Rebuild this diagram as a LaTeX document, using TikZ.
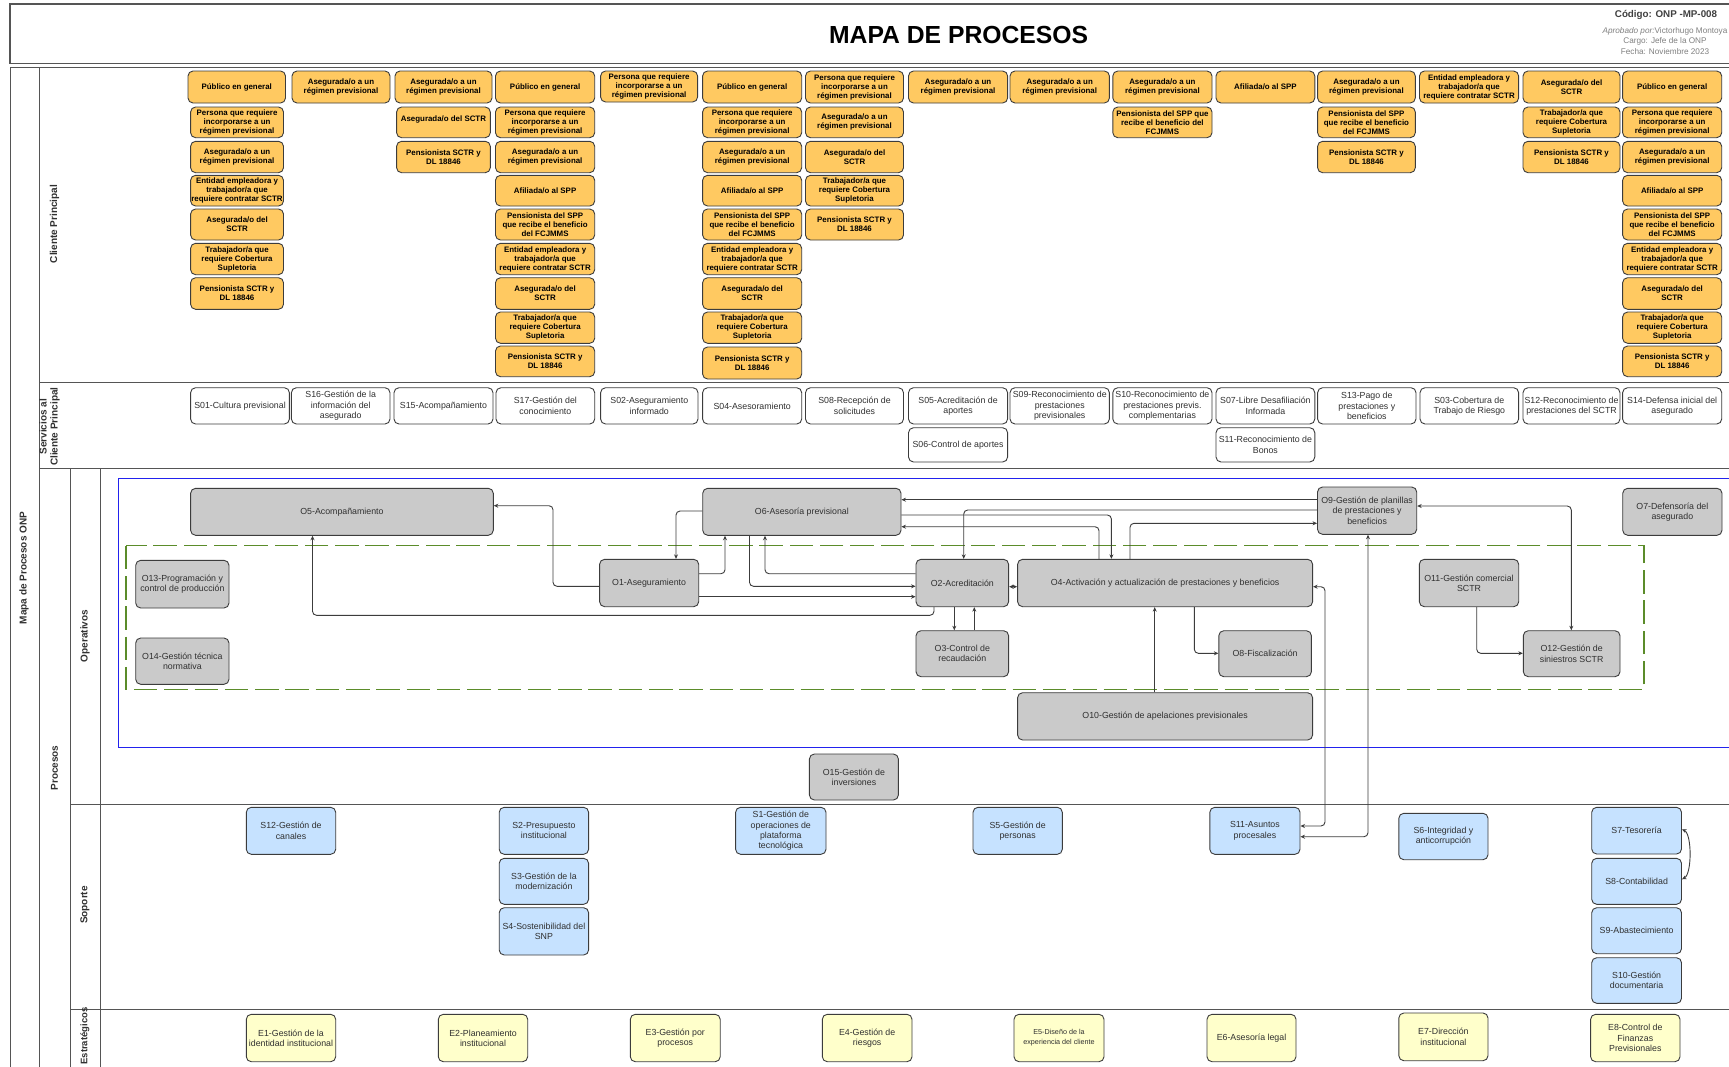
\documentclass[tikz,border=0pt]{standalone}
\usepackage{fontspec}
\setmainfont{Liberation Sans}
\usetikzlibrary{arrows.meta}
\definecolor{frameC}{HTML}{555555}
\definecolor{edgeC}{HTML}{3C3C3C}
\definecolor{orangeC}{HTML}{FFC961}
\definecolor{greyC}{HTML}{CACACA}
\definecolor{blueC}{HTML}{C6E2FF}
\definecolor{yellowC}{HTML}{FFFFCB}
\definecolor{greenC}{HTML}{5B8C2A}
\definecolor{laneblue}{HTML}{2222EE}
\definecolor{txtC}{HTML}{303030}
\newcommand{\bx}[7]{%
  \pgfmathsetmacro\bxW{#5-#3}\pgfmathsetmacro\bxH{#6-#4}%
  \node[#1,minimum width=\bxW pt,minimum height=\bxH pt] (#2) at ({(#3+#5)/2},{(#4+#6)/2}) {#7};}
\tikzset{
  basebox/.style={draw=edgeC,line width=0.9pt,rounded corners=5pt,inner sep=0pt,align=center,text=txtC},
  orangebox/.style={basebox,fill=orangeC,text=black,font=\bfseries\fontsize{7.9}{9}\selectfont},
  servbox/.style={basebox,fill=white,font=\fontsize{8.8}{10.2}\selectfont},
  greybox/.style={basebox,fill=greyC,font=\fontsize{8.8}{10.2}\selectfont},
  bluebox/.style={basebox,fill=blueC,font=\fontsize{8.8}{10.2}\selectfont},
  yellowbox/.style={basebox,fill=yellowC,font=\fontsize{8.8}{10.2}\selectfont},
  smallyellow/.style={yellowbox,font=\fontsize{7.2}{10}\selectfont},
  frameline/.style={draw=frameC,line width=1pt},
  lanelabel/.style={rotate=90,align=center,text=txtC,inner sep=0pt,font=\bfseries\fontsize{10}{11}\selectfont},
  conn/.style={draw=edgeC,line width=0.9pt,rounded corners=4pt},
  oneway/.style={conn,-{Stealth[length=4.5pt,width=4pt]}},
  twoway/.style={conn,{Stealth[length=4.5pt,width=4pt]}-{Stealth[length=4.5pt,width=4pt]}}
}
% orange texts
\newcommand{\tPub}{Público en general}
\newcommand{\tPer}{Persona que requiere\\incorporarse a un\\régimen previsional}
\newcommand{\tAse}{Asegurada/o a un\\régimen previsional}
\newcommand{\tEnt}{Entidad empleadora y\\trabajador/a que\\requiere contratar SCTR}
\newcommand{\tSct}{Asegurada/o del\\SCTR}
\newcommand{\tTra}{Trabajador/a que\\requiere Cobertura\\Supletoria}
\newcommand{\tPen}{Pensionista SCTR y\\DL 18846}
\newcommand{\tAfi}{Afiliada/o al SPP}
\newcommand{\tPsp}{Pensionista del SPP\\que recibe el beneficio\\del FCJMMS}
\begin{document}
\begin{tikzpicture}[x=1pt,y=-1pt]
\useasboundingbox (0,0) rectangle (1729,1066);
\fill[white] (0,0) rectangle (1729,1066);
\clip (0,0) rectangle (1729,1066);
% frames
\draw[frameline,line width=1.2pt] (1745,4) -- (10,4) -- (10,63.5) -- (1745,63.5);
\draw[frameline] (1745,67.7) -- (10,67.7) -- (10,1075);
\draw[frameline] (39.5,67.7) -- (39.5,1075);
\draw[frameline] (39.5,382.7) -- (1745,382.7);
\draw[frameline] (39.5,468.7) -- (1745,468.7);
\draw[frameline] (70,468.7) -- (70,1075);
\draw[frameline] (100,468.7) -- (100,1075);
\draw[frameline] (70,804.7) -- (1745,804.7);
\draw[frameline] (70,1009) -- (1745,1009);
\draw[draw=laneblue,line width=1pt] (1745,478) -- (118,478) -- (118,747.3) -- (1745,747.3);
\draw[draw=greenC,line width=1.1pt,dash pattern=on 23.5pt off 6.8pt] (126,545.7) rectangle (1644,689.3);
% title texts
\node[font=\bfseries\fontsize{24.7}{28}\selectfont,text=black] (title) at (958.6,35) {MAPA DE PROCESOS};
\node[font=\bfseries\fontsize{9.8}{11}\selectfont,text=black!75] (code) at (1666,15) {Código: ONP -MP-008};
\node[font=\fontsize{8.2}{10.3}\selectfont,text=black!50,align=center] (appr) at (1665,41) {\textit{Aprobado por:}Victorhugo Montoya\\Cargo: Jefe de la ONP\\Fecha: Noviembre 2023};
% lane labels
\node[lanelabel] (l1) at (24,568) {Mapa de Procesos ONP};
\node[lanelabel] (l2) at (54.5,224) {Cliente Principal};
\node[lanelabel] (l3) at (49.5,426.7) {Servicios al\\Cliente Principal};
\node[lanelabel] (l4) at (54.5,768) {Procesos};
\node[lanelabel] (l5) at (85,636) {Operativos};
\node[lanelabel] (l6) at (85,905) {Soporte};
\node[lanelabel,font=\bfseries\fontsize{9.5}{11}\selectfont] (l7) at (85,1036) {Estratégicos};
% row 1 orange
\bx{orangebox}{a1}{188}{71}{285.5}{103}{\tPub}
\bx{orangebox}{b1}{292}{71}{390}{103}{\tAse}
\bx{orangebox}{c1}{395}{71}{492}{103}{\tAse}
\bx{orangebox}{d1}{495.5}{71}{594.7}{103}{\tPub}
\bx{orangebox}{e1}{600.6}{71}{697.6}{102}{\tPer}
\bx{orangebox}{f1}{702.6}{71}{801.7}{103}{\tPub}
\bx{orangebox}{g1}{805.5}{71}{903.5}{103}{\raisebox{1pt}{\parbox{96pt}{\centering \tPer}}}
\bx{orangebox}{h1}{908.5}{71}{1007.6}{103}{\tAse}
\bx{orangebox}{i1}{1010}{71}{1109.4}{103}{\tAse}
\bx{orangebox}{j1}{1112.8}{71}{1212}{103}{\tAse}
\bx{orangebox}{k1}{1216}{71}{1314.8}{103}{\tAfi}
\bx{orangebox}{l1b}{1317.6}{71}{1415.3}{103}{\tAse}
\bx{orangebox}{m1}{1419.5}{71}{1518.6}{103}{\tEnt}
\bx{orangebox}{n1}{1523}{71}{1620}{103}{\tSct}
\bx{orangebox}{o1b}{1622.6}{71}{1721.7}{103}{\tPub}
% col A
\bx{orangebox}{a2}{190.6}{107}{283.5}{137.7}{\tPer}
\bx{orangebox}{a3}{190.6}{141.3}{283.5}{172.7}{\tAse}
\bx{orangebox}{a4}{190.6}{175.3}{283.5}{206}{\tEnt}
\bx{orangebox}{a5}{190.6}{209}{283.5}{240}{\tSct}
\bx{orangebox}{a6}{190.6}{243.3}{283.5}{274.7}{\tTra}
\bx{orangebox}{a7}{190.6}{277.7}{283.5}{309.3}{\tPen}
% col C
\bx{orangebox}{c2}{396.6}{107}{490.3}{137.7}{\raisebox{7pt}{Asegurada/o del SCTR}}
\bx{orangebox}{c3}{396.6}{141.3}{490.3}{172.7}{\tPen}
% col D
\bx{orangebox}{d2}{495.5}{107}{594.7}{137.7}{\tPer}
\bx{orangebox}{d3}{495.5}{141.3}{594.7}{172.7}{\tAse}
\bx{orangebox}{d4}{495.5}{175.3}{594.7}{206}{\tAfi}
\bx{orangebox}{d5}{495.5}{209}{594.7}{240}{\tPsp}
\bx{orangebox}{d6}{495.5}{243.3}{594.7}{274.7}{\tEnt}
\bx{orangebox}{d7}{495.5}{277.7}{594.7}{309.3}{\tSct}
\bx{orangebox}{d8}{495.5}{312}{594.7}{343.3}{\tTra}
\bx{orangebox}{d9}{495.5}{346}{594.7}{376.7}{\tPen}
% col F
\bx{orangebox}{f2}{702.6}{107}{801.7}{137.7}{\tPer}
\bx{orangebox}{f3}{702.6}{141.3}{801.7}{172.7}{\tAse}
\bx{orangebox}{f4}{702.6}{175.3}{801.7}{206}{\tAfi}
\bx{orangebox}{f5}{702.6}{209}{801.7}{240}{\tPsp}
\bx{orangebox}{f6}{702.6}{243.3}{801.7}{274.7}{\tEnt}
\bx{orangebox}{f7}{702.6}{277.7}{801.7}{309.3}{\tSct}
\bx{orangebox}{f8}{702.6}{312}{801.7}{343.3}{\tTra}
\bx{orangebox}{f9}{702.6}{347}{801.7}{379}{\tPen}
% col G
\bx{orangebox}{g2}{805.5}{107}{903.5}{137.7}{\tAse}
\bx{orangebox}{g3}{805.5}{141.3}{903.5}{172.7}{\tSct}
\bx{orangebox}{g4}{805.5}{175.3}{903.5}{206}{\tTra}
\bx{orangebox}{g5}{805.5}{209}{903.5}{240}{\tPen}
% col J, L, N
\bx{orangebox}{j2}{1112.8}{107}{1212}{137.7}{Pensionista del SPP que\\recibe el beneficio del\\FCJMMS}
\bx{orangebox}{l2b}{1317.6}{107}{1415.3}{137.7}{\tPsp}
\bx{orangebox}{l3b}{1317.6}{141.3}{1415.3}{172.7}{\tPen}
\bx{orangebox}{n2}{1523}{107}{1620}{137.7}{\tTra}
\bx{orangebox}{n3}{1523}{141.3}{1620}{172.7}{\tPen}
% col O
\bx{orangebox}{o2b}{1622.6}{107}{1721.7}{137.7}{\tPer}
\bx{orangebox}{o3b}{1622.6}{141.3}{1721.7}{172.7}{\tAse}
\bx{orangebox}{o4b}{1622.6}{175.3}{1721.7}{206}{\tAfi}
\bx{orangebox}{o5b}{1622.6}{209}{1721.7}{240}{\tPsp}
\bx{orangebox}{o6b}{1622.6}{243.3}{1721.7}{274.7}{\tEnt}
\bx{orangebox}{o7b}{1622.6}{277.7}{1721.7}{309.3}{\tSct}
\bx{orangebox}{o8b}{1622.6}{312}{1721.7}{343.3}{\tTra}
\bx{orangebox}{o9b}{1622.6}{346}{1721.7}{376.7}{\tPen}
% services
\bx{servbox}{sv01}{190.6}{387.7}{289.4}{424}{\raisebox{2pt}{S01-Cultura previsional}}
\bx{servbox}{sv16}{291.4}{387.7}{390}{424}{S16-Gestión de la\\información del\\asegurado}
\bx{servbox}{sv15}{394}{387.7}{493}{424}{S15-Acompañamiento}
\bx{servbox}{sv17}{496}{387.7}{594.7}{424}{S17-Gestión del\\conocimiento}
\bx{servbox}{sv02}{600.6}{387.7}{698}{424}{S02-Aseguramiento\\informado}
\bx{servbox}{sv04}{702.6}{387.7}{801.7}{424}{S04-Asesoramiento}
\bx{servbox}{sv08}{805.5}{387.7}{903.5}{424}{S08-Recepción de\\solicitudes}
\bx{servbox}{sv05}{908.5}{387.7}{1007.6}{424}{S05-Acreditación de\\aportes}
\bx{servbox}{sv06}{908.5}{427.7}{1007.6}{462}{S06-Control de aportes}
\bx{servbox}{sv09}{1010}{387.7}{1109.4}{424}{S09-Reconocimiento de\\prestaciones\\previsionales}
\bx{servbox}{sv10}{1112.8}{387.7}{1212}{424}{S10-Reconocimiento de\\prestaciones previs.\\complementarias}
\bx{servbox}{sv07}{1216}{387.7}{1314.8}{424}{S07-Libre Desafiliación\\Informada}
\bx{servbox}{sv11}{1216}{427.7}{1314.8}{462}{S11-Reconocimiento de\\Bonos}
\bx{servbox}{sv13}{1317.6}{387.7}{1416}{424}{S13-Pago de\\prestaciones y\\beneficios}
\bx{servbox}{sv03}{1420}{387.7}{1518.6}{424}{S03-Cobertura de\\Trabajo de Riesgo}
\bx{servbox}{sv12}{1523}{387.7}{1620}{424}{S12-Reconocimiento de\\prestaciones del SCTR}
\bx{servbox}{sv14}{1622.6}{387.7}{1721.7}{424}{S14-Defensa inicial del\\asegurado}
% operative
\bx{greybox}{O5}{190.6}{488.3}{493.3}{535.3}{O5-Acompañamiento}
\bx{greybox}{O6}{702.7}{488.3}{901}{535.3}{O6-Asesoría previsional}
\bx{greybox}{O1}{599.6}{559.3}{698.7}{606.7}{O1-Aseguramiento}
\bx{greybox}{O13}{135.7}{560.3}{229}{608}{O13-Programación y\\control de producción}
\bx{greybox}{O14}{135.7}{638}{229}{684.3}{O14-Gestión técnica\\normativa}
\bx{greybox}{O2}{916}{559.3}{1008.6}{606.7}{O2-Acreditación}
\bx{greybox}{O4}{1017.6}{559.3}{1312.6}{606.7}{O4-Activación y actualización de prestaciones y beneficios}
\bx{greybox}{O3}{916}{630.7}{1008.6}{676.7}{O3-Control de\\recaudación}
\bx{greybox}{O8}{1218.8}{630.7}{1311.4}{676.7}{O8-Fiscalización}
\bx{greybox}{O10}{1017.6}{692.7}{1312.6}{740}{O10-Gestión de apelaciones previsionales}
\bx{greybox}{O15}{809.4}{754}{898.4}{800}{O15-Gestión de\\inversiones}
\bx{greybox}{O9}{1317.5}{487}{1416.7}{534.3}{O9-Gestión de planillas\\de prestaciones y\\beneficios}
\bx{greybox}{O7}{1622.7}{488.3}{1722}{535.3}{O7-Defensoría del\\asegurado}
\bx{greybox}{O11}{1419.3}{559.3}{1518.7}{606.7}{O11-Gestión comercial\\SCTR}
\bx{greybox}{O12}{1523.3}{630.7}{1620}{676.7}{O12-Gestión de\\siniestros SCTR}
% support
\bx{bluebox}{B12}{246.3}{807.3}{335.7}{854.3}{S12-Gestión de\\canales}
\bx{bluebox}{B2}{499.2}{807.3}{588.6}{854.3}{S2-Presupuesto\\institucional}
\bx{bluebox}{B3}{499.2}{858.3}{588.6}{904.3}{S3-Gestión de la\\modernización}
\bx{bluebox}{B4}{499.2}{907.7}{588.6}{955}{S4-Sostenibilidad del\\SNP}
\bx{bluebox}{B1}{735.6}{807.3}{826}{854.3}{S1-Gestión de\\operaciones de\\plataforma\\tecnológica}
\bx{bluebox}{B5}{973}{807.3}{1062.3}{854.3}{S5-Gestión de\\personas}
\bx{bluebox}{B11}{1209.8}{807.3}{1300}{854.3}{S11-Asuntos\\procesales}
\bx{bluebox}{B6}{1398.8}{813.3}{1488}{859.7}{S6-Integridad y\\anticorrupción}
\bx{bluebox}{B7}{1591.7}{807.3}{1681.5}{854}{S7-Tesorería}
\bx{bluebox}{B8}{1591.7}{858.3}{1681.5}{904.3}{S8-Contabilidad}
\bx{bluebox}{B9}{1591.7}{907.7}{1681.5}{953.7}{S9-Abastecimiento}
\bx{bluebox}{B10}{1591.7}{957.7}{1681.5}{1003.3}{S10-Gestión\\documentaria}
% strategic
\bx{yellowbox}{E1}{246.3}{1014.3}{335.7}{1061.7}{E1-Gestión de la\\identidad institucional}
\bx{yellowbox}{E2}{438.3}{1014.3}{527.7}{1061.7}{E2-Planeamiento\\institucional}
\bx{yellowbox}{E3}{630.3}{1014.3}{720.2}{1061.7}{E3-Gestión por\\procesos}
\bx{yellowbox}{E4}{822.3}{1014.3}{912}{1061.7}{E4-Gestión de\\riesgos}
\bx{smallyellow}{E5}{1014}{1014.3}{1104}{1061.7}{E5-Diseño de la\\experiencia del cliente}
\bx{yellowbox}{E6}{1207}{1014.3}{1296}{1061.7}{E6-Asesoría legal}
\bx{yellowbox}{E7}{1398.8}{1013}{1488}{1060.7}{E7-Dirección\\institucional}
\bx{yellowbox}{E8}{1590.6}{1014.3}{1680}{1061.7}{E8-Control de\\Finanzas\\Previsionales}
% connectors
\draw[oneway] (O1.west |- 0,586.3) -- (553,586.3) -- (553,505.7) -- (O5.east |- 0,505.7);
\draw[oneway] (O6.west |- 0,511) -- (676,511) -- (O1.north -| 676,0);
\draw[oneway] (O1.east |- 0,573.7) -- (725,573.7) -- (O6.south -| 725,0);
\draw[oneway] (O6.south -| 749.5,0) -- (749.5,586.3) -- (O2.west |- 0,586.3);
\draw[oneway] (O2.west |- 0,573.7) -- (765,573.7) -- (O6.south -| 765,0);
\draw[oneway] (O1.east |- 0,596.7) -- (O2.west |- 0,596.7);
\draw[oneway] (O2.south -| 934,0) -- (934,615.3) -- (312.5,615.3) -- (O5.south -| 312.5,0);
\draw[oneway] (O9.west |- 0,499.7) -- (O6.east |- 0,499.7);
\draw[oneway] (O9.west |- 0,510) -- (963.7,510) -- (O2.north -| 963.7,0);
\draw[oneway] (O6.east |- 0,515) -- (1111.4,515) -- (O4.north -| 1111.4,0);
\draw[oneway] (O4.north -| 1099,0) -- (1099,526.7) -- (O6.east |- 0,526.7);
\draw[oneway] (O4.north -| 1130,0) -- (1130,523.3) -- (O9.west |- 0,523.3);
\draw[twoway] (O2.east |- 0,586.7) -- (O4.west |- 0,586.7);
\draw[oneway] (O2.south -| 954.3,0) -- (O3.north -| 954.3,0);
\draw[oneway] (O3.north -| 974.3,0) -- (O2.south -| 974.3,0);
\draw[oneway] (O10.north -| 1154.7,0) -- (O4.south -| 1154.7,0);
\draw[oneway] (O4.south -| 1194.3,0) -- (1194.3,653.3) -- (O8.west |- 0,653.3);
\draw[twoway] (B11.east |- 0,826) -- (1325,826) -- (1325,586.7) -- (O4.east |- 0,586.7);
\draw[twoway] (B11.east |- 0,836.7) -- (1368,836.7) -- (O9.south -| 1368,0);
\draw[twoway] (O9.east |- 0,506) -- (1571.3,506) -- (O12.north -| 1571.3,0);
\draw[oneway] (O11.south -| 1476.7,0) -- (1476.7,653.3) -- (O12.west |- 0,653.3);
\draw[draw=edgeC,line width=0.9pt,{Stealth[length=4.5pt,width=4pt]}-{Stealth[length=4.5pt,width=4pt]}] (B7.east |- 0,829.3) .. controls (1692,834) and (1692,874) .. (B8.east |- 0,879.3);
\end{tikzpicture}
\end{document}
